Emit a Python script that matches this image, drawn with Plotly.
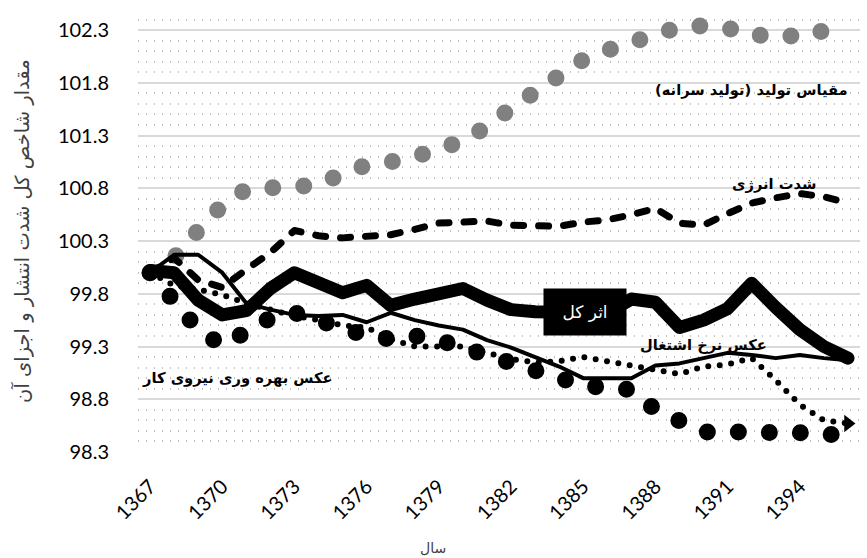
import plotly.graph_objects as go

years = list(range(1367, 1397))

# مقیاس تولید (تولید سرانه)
scale_prod = [100.00, 100.14, 100.40, 100.64, 100.79, 100.79, 100.79, 100.83, 100.94, 101.02,
              101.05, 101.10, 101.16, 101.26, 101.38, 101.56, 101.73, 101.89, 102.02, 102.11,
              102.19, 102.23, 102.33, 102.34, 102.32, 102.24, 102.27, 102.23, 102.30, 102.36]
# شدت انرژی
energy_int = [100.00, 100.14, 99.93, 99.86, 100.03, 100.19, 100.40, 100.35, 100.33, 100.34,
              100.36, 100.41, 100.47, 100.48, 100.49, 100.45, 100.44, 100.44, 100.48, 100.50,
              100.55, 100.61, 100.47, 100.45, 100.56, 100.66, 100.71, 100.75, 100.72, 100.66]
# عکس نرخ اشتغال
inv_employment = [100.00, 100.17, 100.17, 100.00, 99.71, 99.65, 99.60, 99.59, 99.60, 99.53,
                  99.62, 99.55, 99.50, 99.46, 99.36, 99.29, 99.20, 99.11, 99.00, 99.00,
                  99.00, 99.12, 99.14, 99.19, 99.24, 99.22, 99.19, 99.22, 99.19, 99.17]
# ضریب انتشار
emission_coef = [100.00, 99.88, 99.84, 99.79, 99.71, 99.65, 99.59, 99.55, 99.50, 99.48,
                 99.37, 99.30, 99.30, 99.30, 99.24, 99.18, 99.15, 99.16, 99.20, 99.16,
                 99.12, 99.07, 99.04, 99.11, 99.13, 99.19, 98.98, 98.75, 98.60, 98.57]
# عکس بهره وری نیروی کار
inv_productivity = [100.00, 99.74, 99.46, 99.31, 99.45, 99.57, 99.62, 99.54, 99.46, 99.40,
                    99.37, 99.40, 99.36, 99.29, 99.19, 99.12, 99.06, 98.98, 98.93, 98.91,
                    98.89, 98.70, 98.58, 98.49, 98.49, 98.49, 98.49, 98.50, 98.48, 98.43]
# اثر کل
total_effect = [100.02, 100.00, 99.74, 99.60, 99.64, 99.85, 100.00, 99.90, 99.81, 99.88,
                99.69, 99.75, 99.80, 99.85, 99.74, 99.65, 99.63, 99.63, 99.62, 99.62,
                99.75, 99.72, 99.48, 99.55, 99.66, 99.90, 99.67, 99.46, 99.30, 99.19]

y_ticks = [98.3, 98.8, 99.3, 99.8, 100.3, 100.8, 101.3, 101.8, 102.3]
x_ticks = [1367, 1370, 1373, 1376, 1379, 1382, 1385, 1388, 1391, 1394]

fig = go.Figure()

fig.add_trace(go.Scatter(x=years, y=scale_prod, mode="lines",
                         line=dict(color="#808080", width=17, dash="0px,31px"),
                         hoverinfo="skip"))
fig.add_trace(go.Scatter(x=years, y=energy_int, mode="lines",
                         line=dict(color="black", width=7, dash="10px,15px"),
                         hoverinfo="skip"))
fig.add_trace(go.Scatter(x=years, y=inv_employment, mode="lines",
                         line=dict(color="black", width=4),
                         hoverinfo="skip"))
fig.add_trace(go.Scatter(x=years, y=emission_coef, mode="lines",
                         line=dict(color="black", width=6, dash="0px,11.5px"),
                         hoverinfo="skip"))
fig.add_trace(go.Scatter(x=years[-1:], y=emission_coef[-1:], mode="markers",
                         marker=dict(symbol="triangle-right", size=15, color="black",
                                     line=dict(width=0)),
                         hoverinfo="skip", cliponaxis=False))
fig.add_trace(go.Scatter(x=years, y=inv_productivity, mode="lines",
                         line=dict(color="black", width=17, dash="0px,31px"),
                         hoverinfo="skip"))
fig.add_trace(go.Scatter(x=years, y=total_effect, mode="lines",
                         line=dict(color="black", width=13),
                         hoverinfo="skip"))

ar_font = "DejaVu Sans"
lbl = dict(showarrow=False, xref="x", yref="y", xanchor="right", yanchor="middle",
           font=dict(family=ar_font, size=14.7, color="black"))
fig.add_annotation(x=1396.1, y=101.73, text="<b>مقیاس تولید (تولید سرانه)</b>", **lbl)
fig.add_annotation(x=1394.75, y=100.84, text="<b>شدت انرژی</b>", **lbl)
fig.add_annotation(x=1392.72, y=99.31, text="<b>عکس نرخ اشتغال</b>", **lbl)
fig.add_annotation(x=1396.8, y=98.88, text="<b>ضریب انتشار</b>", **lbl)
fig.add_annotation(x=1374.7, y=99.0, text="<b>عکس بهره وری نیروی کار</b>", **lbl)
fig.add_annotation(x=1385.07, y=99.627, text="اثر کل", showarrow=False, xref="x", yref="y",
                   xanchor="center", yanchor="middle", bgcolor="black", width=80, height=44,
                   borderpad=1, font=dict(family=ar_font, size=17, color="white"))

# axis titles
fig.add_annotation(x=-0.1607, y=0.499, xref="paper", yref="paper", text="مقدار شاخص کل شدت انتشار و اجزای آن",
                   textangle=-90, showarrow=False, xanchor="center", yanchor="middle",
                   font=dict(family=ar_font, size=19.5, color="#404040"))
fig.add_annotation(x=0.4086, y=-0.2167, xref="paper", yref="paper", text="سال",
                   showarrow=False, xanchor="center", yanchor="middle",
                   font=dict(family=ar_font, size=14, color="#404040"))

fig.update_xaxes(range=[1366.5, 1396.5], tickmode="array", tickvals=x_ticks,
                 ticktext=[str(v) for v in x_ticks], tickangle=-45,
                 tickfont=dict(family="Lato", size=20, color="black"),
                 showgrid=False, zeroline=False, showline=False,
                 ticks="outside", ticklen=14, tickcolor="rgba(0,0,0,0)")
fig.update_yaxes(range=[98.3, 102.5], tickmode="array", tickvals=y_ticks,
                 ticktext=[f"{v:.1f}" for v in y_ticks],
                 tickfont=dict(family="Lato", size=20, color="black"),
                 showgrid=True, gridcolor="#d9d9d9", gridwidth=2,
                 minor=dict(dtick=0.1, tick0=98.3, showgrid=True, gridcolor="#c0c0c0",
                            griddash="1px,7px", gridwidth=1.5),
                 zeroline=False, showline=False,
                 ticks="outside", ticklen=24, tickcolor="rgba(0,0,0,0)")

fig.update_layout(width=867, height=558, showlegend=False,
                  margin=dict(l=138, r=7, t=9, b=106),
                  plot_bgcolor="white", paper_bgcolor="white")

post = ("document.body.style.margin='0';"
        "document.querySelectorAll('.scatterlayer .js-line').forEach(function(p){"
        "p.style.strokeLinecap='round';p.style.strokeLinejoin='round';});")
fig.write_html("out.html", post_script=post, config={"displayModeBar": False})
